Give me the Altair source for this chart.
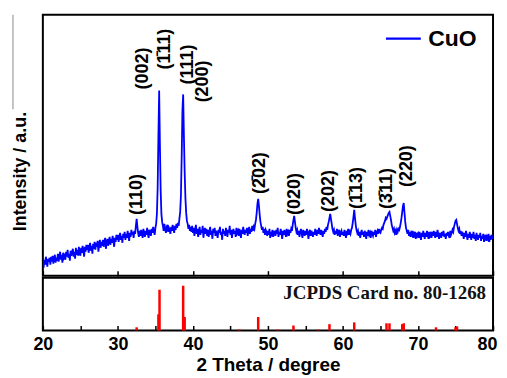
import altair as alt
import pandas as pd

# ---------------- data ----------------
two_theta_start = 20.0
two_theta_step = 0.1
intensity = [
    12, 8, 16, 11, 19, 13, 9, 17, 14, 18,          # 20
    11, 19, 14, 20, 12, 17, 21, 13, 18, 15,        # 21
    22, 14, 19, 24, 16, 21, 13, 23, 18, 20,        # 22
    16, 24, 19, 26, 18, 22, 15, 25, 20, 23,        # 23
    27, 19, 24, 17, 28, 21, 26, 20, 29, 23,        # 24
    20, 28, 23, 30, 25, 19, 29, 24, 31, 26,        # 25
    31, 23, 28, 33, 25, 30, 22, 32, 27, 34,        # 26
    26, 33, 29, 35, 24, 31, 36, 28, 34, 30,        # 27
    36, 29, 34, 38, 27, 33, 37, 30, 35, 39,        # 28
    31, 37, 33, 40, 35, 29, 38, 34, 41, 36,        # 29
    41, 34, 39, 43, 36, 40, 33, 42, 38, 44,        # 30
    36, 42, 38, 45, 40, 35, 43, 39, 46, 41,        # 31
    44, 38, 45, 42, 50, 57, 49, 43, 39, 45,        # 32
    40, 46, 42, 38, 47, 43, 39, 45, 41, 48,        # 33
    42, 38, 46, 44, 40, 47, 43, 49, 45, 41,        # 34
    48, 52, 62, 88, 140, 186, 132, 86, 62, 54,     # 35
    50, 45, 52, 47, 43, 49, 51, 44, 48, 46,        # 36
    42, 49, 45, 51, 47, 43, 50, 46, 52, 48,        # 37
    53, 50, 57, 64, 80, 118, 165, 182, 140, 104,   # 38
    78, 63, 55, 52, 47, 51, 45, 49, 44, 50,        # 39
    43, 48, 40, 46, 51, 42, 47, 39, 45, 49,        # 40
    41, 46, 43, 50, 38, 45, 48, 42, 47, 40,        # 41
    46, 39, 44, 49, 41, 45, 37, 47, 43, 48,        # 42
    40, 45, 42, 38, 46, 43, 49, 41, 44, 36,        # 43
    47, 42, 45, 40, 48, 44, 39, 46, 43, 50,        # 44
    41, 46, 38, 44, 47, 42, 45, 39, 48, 43,        # 45
    45, 40, 47, 43, 38, 46, 42, 49, 44, 41,        # 46
    46, 43, 48, 40, 45, 49, 42, 47, 44, 50,        # 47
    45, 49, 47, 52, 56, 63, 72, 77, 70, 61,        # 48
    54, 50, 46, 49, 43, 47, 41, 46, 44, 40,        # 49
    45, 41, 47, 38, 44, 42, 46, 39, 45, 43,        # 50
    40, 46, 42, 48, 39, 44, 41, 47, 43, 37,        # 51
    45, 41, 46, 43, 39, 47, 42, 44, 40, 46,        # 52
    43, 47, 45, 51, 56, 60, 54, 48, 44, 46,        # 53
    41, 45, 39, 44, 47, 42, 38, 46, 43, 40,        # 54
    45, 41, 47, 43, 37, 44, 46, 40, 45, 42,        # 55
    39, 44, 41, 47, 43, 40, 46, 42, 48, 44,        # 56
    41, 46, 43, 39, 45, 42, 47, 44, 49, 46,        # 57
    51, 54, 58, 62, 57, 52, 47, 44, 46, 41,        # 58
    45, 42, 47, 40, 44, 46, 39, 43, 45, 41,        # 59
    44, 40, 46, 42, 38, 45, 43, 47, 41, 44,        # 60
    42, 46, 48, 53, 59, 66, 58, 51, 46, 43,        # 61
    45, 40, 44, 38, 43, 46, 41, 44, 39, 45,        # 62
    42, 37, 44, 40, 46, 41, 43, 38, 45, 42,        # 63
    40, 44, 41, 46, 39, 43, 45, 42, 47, 44,        # 64
    43, 46, 48, 47, 51, 53, 55, 58, 57, 59,        # 65
    61, 63, 64, 60, 56, 51, 48, 45, 47, 43,        # 66
    45, 41, 46, 44, 47, 46, 49, 53, 58, 64,        # 67
    70, 73, 63, 54, 48, 45, 42, 46, 40, 44,        # 68
    39, 43, 41, 45, 38, 42, 44, 37, 43, 40,        # 69
    42, 38, 44, 40, 36, 43, 39, 45, 41, 37,        # 70
    43, 39, 45, 41, 37, 44, 40, 42, 38, 44,        # 71
    40, 45, 41, 38, 44, 39, 46, 42, 37, 43,        # 72
    41, 38, 44, 40, 45, 39, 42, 37, 43, 40,        # 73
    44, 40, 38, 45, 41, 43, 46, 44, 49, 52,        # 74
    55, 56, 52, 48, 45, 47, 42, 45, 40, 44,        # 75
    41, 37, 43, 39, 45, 40, 36, 42, 38, 44,        # 76
    40, 36, 42, 38, 44, 37, 41, 35, 43, 39,        # 77
    36, 41, 38, 43, 35, 40, 37, 42, 34, 39,        # 78
    41, 35, 39, 37, 42, 34, 40, 36, 41, 38,        # 79
    37,                                            # 80
]

peak_labels = ["(110)", "(002)", "(1\u030411)", "(111)", "(200)", "(2\u030402)",
               "(020)", "(202)", "(1\u030413)", "(3\u030411)", "(220)"]
label_theta = [32.6, 33.3, 36.3, 39.4, 41.4, 48.9, 53.6, 58.2, 61.9, 65.9, 68.5]
label_level = [61, 187, 207, 192, 174, 82, 61, 64, 67, 67, 89]

ref_theta = [32.5, 35.4, 35.55, 38.7, 38.9, 46.2, 48.7, 51.3, 53.4, 56.7,
             58.2, 61.5, 65.8, 66.2, 67.9, 68.1, 72.4, 75.0, 75.2]
ref_intensity = [7, 36, 91, 100, 30, 2, 30, 2, 11, 2,
                 14, 18, 16, 16, 14, 16, 7, 7, 9]

series_name = "CuO"
card_text = "JCPDS Card no. 80-1268"
x_title = "2 Theta / degree"
y_title = "Intensity / a.u."
tick_values = [20, 25, 30, 35, 40, 45, 50, 55, 60, 65, 70, 75, 80]

# ---------------- frames ----------------
xrd = pd.DataFrame({
    "theta": [round(two_theta_start + two_theta_step * i, 2) for i in range(len(intensity))],
    "intensity": intensity,
    "series": series_name,
})
labels_df = pd.DataFrame({"label": peak_labels, "theta": label_theta, "level": label_level})
ref_df = pd.DataFrame({"theta": ref_theta, "rel": ref_intensity, "base": [0] * len(ref_theta)})

FONT = "Liberation Sans"
W = 452
x_scale = alt.Scale(domain=[20, 80], nice=False, zero=False)

top_x_axis = alt.Axis(values=tick_values, labels=False, title=None, domain=False,
                      ticks=True, tickSize=5, tickWidth=1.5, tickColor="black",
                      offset=-5, grid=False, minExtent=0)
bot_x_axis = alt.Axis(values=tick_values, labelExpr="datum.value % 10 == 0 ? datum.label : ''",
                      domain=False, ticks=True, tickSize=5, tickWidth=1.5, tickColor="black",
                      offset=-5, grid=False, labelFont=FONT, labelFontWeight="bold",
                      labelFontSize=18, labelColor="black", labelPadding=5,
                      labelOffset={"condition": {"test": "datum.value == 80", "value": -6}, "value": 0},
                      labelOverlap=False, labelFlush=False,
                      title=x_title, titleFont=FONT, titleFontWeight="bold",
                      titleFontSize=19, titleColor="black", titlePadding=2)

top_y_axis = alt.Axis(labels=False, ticks=False, domain=False, grid=False,
                      title=y_title, titleFont=FONT, titleFontWeight="bold",
                      titleFontSize=18, titleColor="black", titleAngle=270,
                      titleBaseline="alphabetic", titleAlign="center",
                      titleX=-17, titleY=157)

line = alt.Chart(xrd).mark_line(strokeWidth=1.8, clip=True).encode(
    x=alt.X("theta:Q", scale=x_scale, axis=top_x_axis),
    y=alt.Y("intensity:Q", scale=alt.Scale(domain=[0, 262], nice=False), axis=top_y_axis),
    color=alt.Color("series:N", scale=alt.Scale(domain=[series_name], range=["#0000FF"]),
                    legend=alt.Legend(title=None, orient="none", legendX=343, legendY=5,
                                      symbolType="stroke", symbolSize=1225,
                                      symbolStrokeWidth=2.2, labelFont=FONT,
                                      labelFontWeight="bold", labelFontSize=23,
                                      labelColor="black", labelOffset=6, padding=0)),
)

text = alt.Chart(labels_df).mark_text(angle=270, align="left", baseline="middle",
                                      font=FONT, fontWeight="bold", fontSize=18,
                                      color="black").encode(
    x=alt.X("theta:Q", scale=x_scale),
    y=alt.Y("level:Q", scale=alt.Scale(domain=[0, 262], nice=False)),
    text="label:N",
)

side_line = alt.Chart(pd.DataFrame({"a": [0]})).mark_rule(color="#888888", strokeWidth=1).encode(
    x=alt.value(-30), y=alt.value(0), y2=alt.value(95)
)

top = alt.layer(line, text, side_line).properties(width=W, height=262)

sticks = alt.Chart(ref_df).mark_rule(color="#FF0000", strokeWidth=2.5).encode(
    x=alt.X("theta:Q", scale=x_scale, axis=bot_x_axis),
    y=alt.Y("rel:Q", scale=alt.Scale(domain=[0, 118], nice=False), axis=None),
    y2="base:Q",
)
card = alt.Chart(pd.DataFrame({"t": [card_text]})).mark_text(
    align="right", baseline="middle", font="Liberation Serif", fontWeight="bold",
    fontSize=19, color="#111111").encode(
    x=alt.value(445), y=alt.value(15), text="t:N"
)
bottom = alt.layer(sticks, card).properties(width=W, height=53)

chart = alt.vconcat(top, bottom, spacing=-2).properties(
    padding={"left": 3, "top": 4, "right": 0, "bottom": -1}
).configure_view(stroke="black", strokeWidth=2).configure_axis(grid=False)

chart.save("out.html", embed_options={"renderer": "svg", "actions": False})
